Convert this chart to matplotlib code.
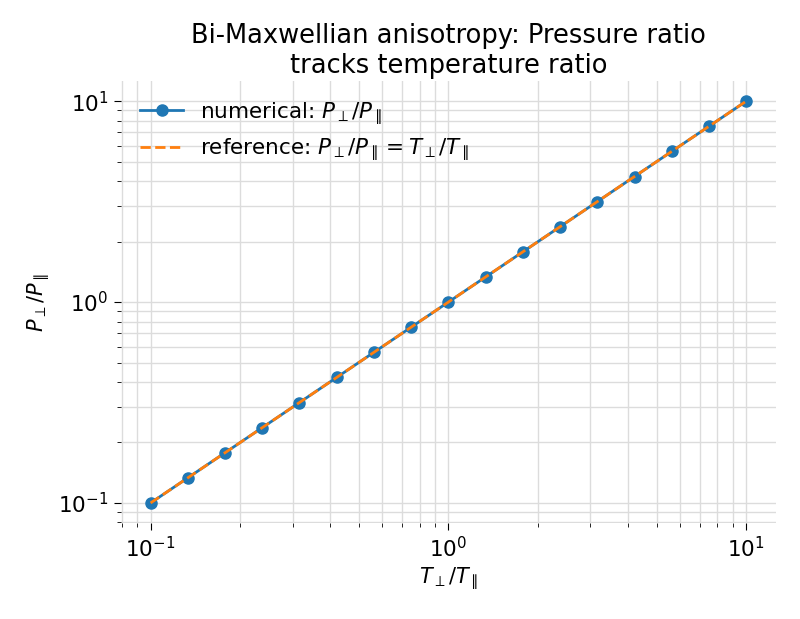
import numpy as np
import matplotlib
matplotlib.use('Agg')
import matplotlib.pyplot as plt

# temperature ratio T_perp / T_par (log-spaced samples)
t_ratio = [0.1, 0.1334, 0.1778, 0.2371, 0.3162, 0.4217, 0.5623, 0.7499, 1.0,
           1.3335, 1.7783, 2.3714, 3.1623, 4.2170, 5.6234, 7.4989, 10.0]
# numerically computed pressure ratio P_perp / P_par
p_ratio = [0.1, 0.1334, 0.1778, 0.2371, 0.3162, 0.4217, 0.5623, 0.7499, 1.0,
           1.3335, 1.7783, 2.3714, 3.1623, 4.2170, 5.6234, 7.4989, 10.0]

fig, ax = plt.subplots(figsize=(8, 6.19), dpi=100)

ax.loglog(t_ratio, p_ratio, 'o-', color='#1f77b4', markersize=8,
          linewidth=2, label=r'numerical: $P_\perp/P_\parallel$')
ax.loglog(t_ratio, t_ratio, '--', color='#ff7f0e', linewidth=2,
          label=r'reference: $P_\perp/P_\parallel = T_\perp/T_\parallel$')

ax.set_xlabel(r'$T_\perp/T_\parallel$', fontsize=15)
ax.set_ylabel(r'$P_\perp/P_\parallel$', fontsize=15)
ax.set_title('Bi-Maxwellian anisotropy: Pressure ratio\ntracks temperature ratio',
             fontsize=18.5)

ax.grid(True, which='both', color='#dcdcdc', linewidth=1)
ax.set_axisbelow(True)
for s in ax.spines.values():
    s.set_visible(False)
ax.tick_params(axis='both', which='major', labelsize=15.5, length=5, pad=4)
ax.tick_params(axis='both', which='minor', length=3)

ax.legend(frameon=False, fontsize=15.5, loc='upper left')

fig.subplots_adjust(left=0.151, right=0.97, top=0.869, bottom=0.155)
fig.savefig('out.png')
plt.close(fig)
